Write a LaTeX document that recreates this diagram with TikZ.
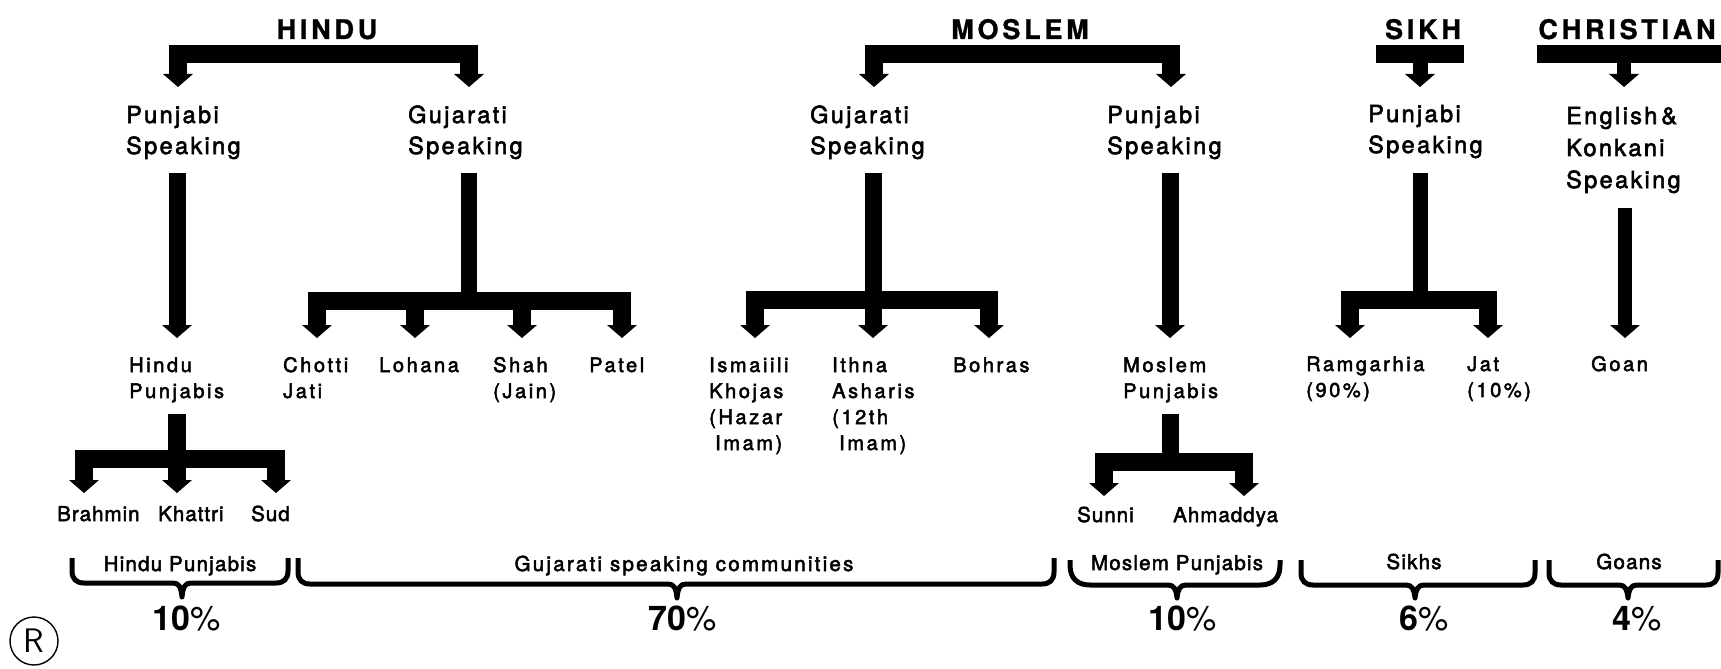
\documentclass[tikz,border=0pt]{standalone}
\usepackage{fontspec}
\setmainfont{TeX Gyre Heros}
\newfontfamily\hdrF[LetterSpace=14,FakeBold=1]{TeX Gyre Heros}
\newfontfamily\oneF[LetterSpace=10,FakeBold=2.5]{TeX Gyre Heros}
\newfontfamily\twoF[LetterSpace=13,FakeBold=2.5]{TeX Gyre Heros}
\newfontfamily\thrF[LetterSpace=5,FakeBold=2.5]{TeX Gyre Heros}
\newfontfamily\brF[LetterSpace=6,FakeBold=2.5]{TeX Gyre Heros}
\newfontfamily\brwF[LetterSpace=11,FakeBold=2.5]{TeX Gyre Heros}
\newfontfamily\pctF{TeX Gyre Heros}
\usetikzlibrary{arrows.meta}
\newcommand\stk[2]{\vtop{\baselineskip=#1\lineskiplimit=-50pt\lineskip=0pt\halign{##\hfil\cr#2\crcr}}}
\newcommand\cbrace[7]{%
\draw[bracestyle] (#1,#4) -- (#1,#5-#7) .. controls (#1,#5-#7*0.35) and (#1+#7*0.35,#5) .. (#1+#7,#5)
 -- (#3-9,#5) .. controls (#3-3,#5) and (#3-1,#5+4) .. (#3,#6)
 .. controls (#3+1,#5+4) and (#3+3,#5) .. (#3+9,#5)
 -- (#2-#7,#5) .. controls (#2-#7*0.35,#5) and (#2,#5-#7*0.35) .. (#2,#5-#7) -- (#2,#4);}
\tikzset{
 tip/.tip={Triangle[width=30pt,length=13pt,line width=0pt]},
 bararrow/.style={line width=18pt, line join=miter, {tip}-{tip}},
 stemarrow/.style={line width=#1, -{tip}},
 stemarrow/.default=17pt,
 plainbar/.style={line width=#1},
 plainbar/.default=18pt,
 bracestyle/.style={line width=5pt, line join=round},
 hdr/.style={anchor=base, inner sep=0pt, font=\hdrF\bfseries\fontsize{27}{30}\selectfont},
 lone/.style={anchor=base west, inner sep=0pt, font=\oneF\fontsize{23.5}{31}\selectfont},
 ltwo/.style={anchor=base west, inner sep=0pt, font=\twoF\fontsize{20}{26}\selectfont},
 lthr/.style={anchor=base west, inner sep=0pt, font=\thrF\fontsize{20.5}{26}\selectfont},
 lbr/.style={anchor=base, inner sep=0pt, font=\brF\fontsize{20.5}{26}\selectfont},
 lpct/.style={anchor=base, inner sep=0pt, font=\pctF\fontsize{34}{36}\selectfont},
}
\begin{document}
\begin{tikzpicture}[x=1pt,y=-1pt]
\useasboundingbox (0,0) rectangle (1721,669);
\fill[white] (0,0) rectangle (1721,669);

% ---------- headers
\node[hdr] (hindu) at (327,39) {HINDU};
\node[hdr] (moslem) at (1020,39) {MOSLEM};
\node[hdr] (sikh) at (1423,39) {SIKH};
\node[hdr] (christian) at (1627,39) {CHRISTIAN};

% ---------- level 1
\node[lone] (hPS) at (126,123) {\stk{31pt}{Punjabi\cr Speaking}};
\node[lone] (hGS) at (408,123) {\stk{31pt}{Gujarati\cr Speaking}};
\node[lone] (mGS) at (810,123) {\stk{31pt}{Gujarati\cr Speaking}};
\node[lone] (mPS) at (1107,123) {\stk{31pt}{Punjabi\cr Speaking}};
\node[lone] (sPS) at (1368,122) {\stk{31pt}{Punjabi\cr Speaking}};
\node[lone] (cES) at (1566,124) {\stk{32pt}{English\,\&\cr Konkani\cr Speaking}};

% ---------- level 2
\node[ltwo] (hPj) at (129,372) {\stk{26pt}{Hindu\cr Punjabis}};
\node[ltwo] (chotti) at (283,372) {\stk{26pt}{Chotti\cr Jati}};
\node[ltwo] (lohana) at (379,372) {Lohana};
\node[ltwo] (shah) at (493,372) {\stk{26pt}{Shah\cr (Jain)}};
\node[ltwo] (patel) at (589,372) {Patel};
\node[ltwo] (ism) at (709,372) {\stk{26pt}{Ismaiili\cr Khojas\cr (Hazar\cr \kern6pt Imam)}};
\node[ltwo] (ithna) at (832,372) {\stk{26pt}{Ithna\cr Asharis\cr (12th\cr \kern7pt Imam)}};
\node[ltwo] (bohras) at (953,372) {Bohras};
\node[ltwo] (mPj) at (1123,372) {\stk{26pt}{Moslem\cr Punjabis}};
\node[ltwo] (ram) at (1306,371) {\stk{26pt}{Ramgarhia\cr (90\%)}};
\node[ltwo] (jat) at (1467,371) {\stk{26pt}{Jat\cr (10\%)}};
\node[ltwo] (goan) at (1591,371) {Goan};

% ---------- level 3
\node[lthr] (brahmin) at (57,521) {Brahmin};
\node[lthr] (khattri) at (158,521) {Khattri};
\node[lthr] (sud) at (251,521) {Sud};
\node[lthr] (sunni) at (1077,522) {Sunni};
\node[lthr] (ahmad) at (1173,522) {Ahmaddya};

% ---------- top bars
\coordinate (hdL) at (178,87); \coordinate (hdM) at (327,54); \coordinate (hdR) at (469,87);
\draw[bararrow] (hdL) |- (hdM) -| (hdR);
\coordinate (mdL) at (874,87); \coordinate (mdM) at (1020,54); \coordinate (mdR) at (1171,87);
\draw[bararrow] (mdL) |- (mdM) -| (mdR);
\coordinate (skA) at (1376,54); \coordinate (skB) at (1464,54);
\coordinate (skM) at (1420,54); \coordinate (skT) at (1420,87);
\draw[plainbar] (skA) -- (skB);
\draw[stemarrow=15pt] (skM) -- (skT);
\coordinate (chA) at (1537,54); \coordinate (chB) at (1721,54);
\coordinate (chM) at (1624,54); \coordinate (chT) at (1624,87);
\draw[plainbar] (chA) -- (chB);
\draw[stemarrow=14pt] (chM) -- (chT);

% ---------- level 1 -> level 2
\coordinate (hp1) at (177,173); \coordinate (hp2) at (177,338);
\draw[stemarrow] (hp1) -- (hp2);

\coordinate (hg1) at (469,173); \coordinate (hgM) at (469,301);
\draw[plainbar=16pt] (hg1) -- (hgM);
\coordinate (hgL) at (317,338); \coordinate (hgR) at (622,338);
\draw[bararrow] (hgL) |- (hgM) -| (hgR);
\coordinate (hgA) at (415,301); \coordinate (hgAt) at (415,338);
\coordinate (hgB) at (522,301); \coordinate (hgBt) at (522,338);
\draw[stemarrow=18pt] (hgA) -- (hgAt);
\draw[stemarrow=18pt] (hgB) -- (hgBt);

\coordinate (mg1) at (873,173); \coordinate (mgM) at (873,300); \coordinate (mg2) at (873,338);
\draw[stemarrow] (mg1) -- (mg2);
\coordinate (mgL) at (755,338); \coordinate (mgR) at (989,338);
\draw[bararrow] (mgL) |- (mgM) -| (mgR);

\coordinate (mp1) at (1170,173); \coordinate (mp2) at (1170,338);
\draw[stemarrow] (mp1) -- (mp2);

\coordinate (sk1) at (1420,173); \coordinate (skBM) at (1420,300);
\draw[plainbar=15pt] (sk1) -- (skBM);
\coordinate (skL) at (1350,338); \coordinate (skR) at (1488,338);
\draw[bararrow] (skL) |- (skBM) -| (skR);

\coordinate (ch1) at (1625,208); \coordinate (ch2) at (1625,338);
\draw[stemarrow=14pt] (ch1) -- (ch2);

% ---------- level 2 -> level 3
\coordinate (hq1) at (177,414); \coordinate (hqM) at (177,459); \coordinate (hq2) at (177,493);
\draw[stemarrow=18pt] (hq1) -- (hq2);
\coordinate (hqL) at (84,493); \coordinate (hqR) at (276,493);
\draw[bararrow] (hqL) |- (hqM) -| (hqR);

\coordinate (mq1) at (1170,414); \coordinate (mqM) at (1170,462);
\draw[plainbar=17pt] (mq1) -- (mqM);
\coordinate (mqL) at (1104,496); \coordinate (mqR) at (1244,496);
\draw[bararrow] (mqL) |- (mqM) -| (mqR);

% ---------- braces
\cbrace{72}{288}{182}{558}{583}{597}{12}
\cbrace{298}{1054}{677}{558}{584}{598}{12}
\cbrace{1070}{1280}{1177}{560}{585}{598}{20}
\cbrace{1301}{1535}{1415}{560}{585}{598}{12}
\cbrace{1549}{1718}{1628}{560}{585}{598}{12}

\node[lbr] (bHP) at (180,571) {Hindu Punjabis};
\node[lbr,font=\brwF\fontsize{20.5}{26}\selectfont] (bGS) at (684,571) {Gujarati speaking communities};
\node[lbr] (bMP) at (1177,570) {Moslem Punjabis};
\node[lbr] (bSk) at (1414,569) {Sikhs};
\node[lbr] (bGo) at (1629,569) {Goans};

\node[lpct] (p1) at (187,630) {{\bfseries 10}\%};
\node[lpct] (p2) at (683,630) {{\bfseries 70}\%};
\node[lpct] (p3) at (1183,630) {{\bfseries 10}\%};
\node[lpct] (p4) at (1424,630) {{\bfseries 6}\%};
\node[lpct] (p5) at (1637,630) {{\bfseries 4}\%};

\node[circle, draw, line width=1.4pt, minimum size=48pt, inner sep=0pt] (reg) at (34,641)
  {\fontsize{34}{34}\sffamily R};
\end{tikzpicture}
\end{document}
